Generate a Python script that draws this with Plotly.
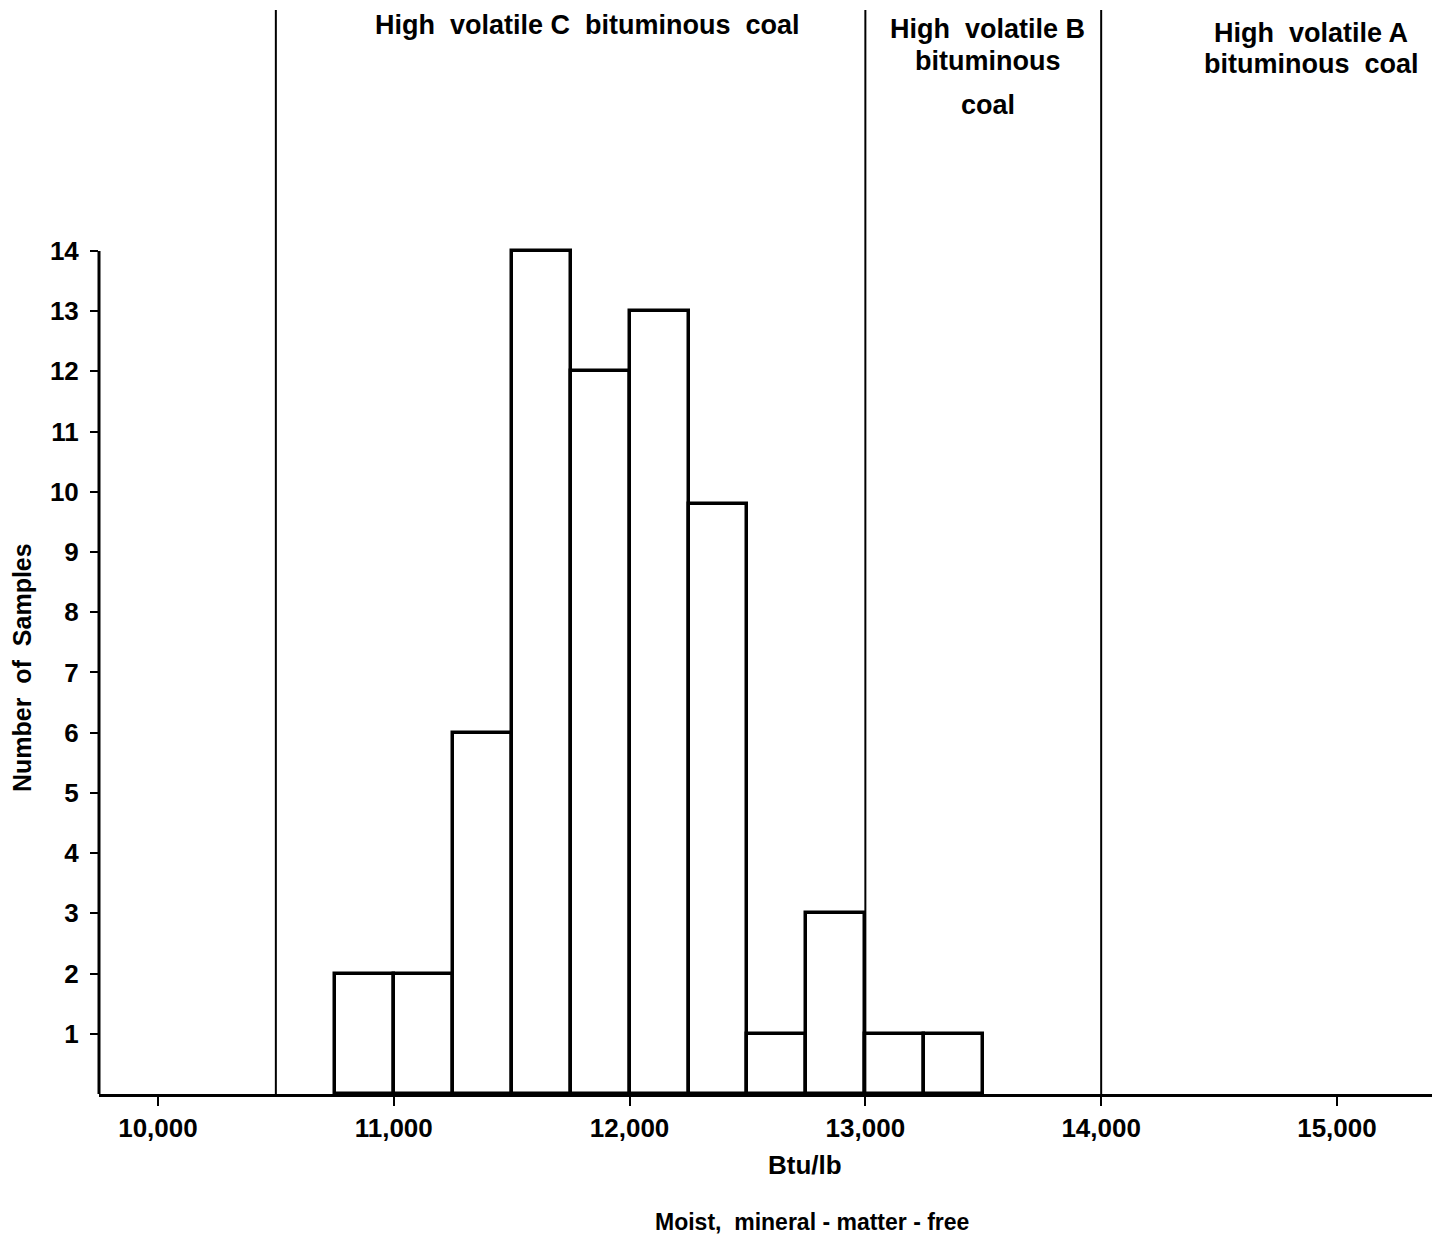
import plotly.graph_objects as go

# ---- data ----
bin_left = [10750, 11000, 11250, 11500, 11750, 12000, 12250, 12500, 12750, 13000, 13250]
counts = [2, 2, 6, 14, 12, 13, 9.8, 1, 3, 1, 1]
bin_width = 250
boundaries = [10500, 13000, 14000]
x_ticks = [10000, 11000, 12000, 13000, 14000, 15000]
x_ticklabels = ["10,000", "11,000", "12,000", "13,000", "14,000", "15,000"]
y_ticks = list(range(1, 15))
region_labels = [
    (11820, ["High  volatile C  bituminous  coal"], [25]),
    (13520, ["High  volatile B", "bituminous", "coal"], [29, 61, 105]),
    (14890, ["High  volatile A", "bituminous  coal"], [33, 64]),
]

FONT = "Liberation Sans"
W = "bold"

fig = go.Figure()
fig.add_trace(go.Bar(
    x=[b + bin_width / 2 for b in bin_left],
    y=counts,
    width=bin_width,
    marker=dict(color="white", line=dict(color="black", width=3.5)),
    showlegend=False,
))

shapes = []
for bx in boundaries:
    shapes.append(dict(type="line", xref="x", yref="paper", x0=bx, x1=bx, y0=0, y1=1,
                       line=dict(color="black", width=2)))
# y axis line only up to 14
shapes.append(dict(type="line", xref="paper", yref="y", x0=0, x1=0, y0=0, y1=max(y_ticks),
                   line=dict(color="black", width=3)))

annotations = []
for xc, lines, ys in region_labels:
    for txt, py in zip(lines, ys):
        annotations.append(dict(x=xc, xref="x", y=1, yref="paper", yanchor="middle",
                                yshift=-(py - 10), text=txt, showarrow=False,
                                font=dict(family=FONT, size=27, color="black", weight=W)))
annotations.append(dict(x=0.5296, xref="paper", y=0, yref="paper", yanchor="middle",
                        yshift=-71, text="Btu/lb", showarrow=False,
                        font=dict(family=FONT, size=26, color="black", weight=W)))
annotations.append(dict(x=0.535, xref="paper", y=0, yref="paper", yanchor="middle",
                        yshift=-128, text="Moist,  mineral - matter - free", showarrow=False,
                        font=dict(family=FONT, size=23, color="black", weight=W)))
annotations.append(dict(x=0, xref="paper", xshift=-77, xanchor="center",
                        y=0.393, yref="paper", yanchor="middle",
                        text="Number  of  Samples", textangle=-90, showarrow=False,
                        font=dict(family=FONT, size=25, color="black", weight=W)))

fig.update_layout(
    width=1442, height=1237,
    margin=dict(l=99, r=10, t=10, b=143),
    paper_bgcolor="white", plot_bgcolor="white",
    bargap=0,
    shapes=shapes, annotations=annotations,
    font=dict(family=FONT, color="black"),
    xaxis=dict(range=[9750, 15403], tickvals=x_ticks, ticktext=x_ticklabels,
               showline=True, linecolor="black", linewidth=3,
               ticks="outside", ticklen=9, tickwidth=2, tickcolor="black",
               showgrid=False, zeroline=False,
               tickfont=dict(family=FONT, size=26, color="black", weight=W)),
    yaxis=dict(range=[0, 18], tickvals=y_ticks, showline=False,
               ticks="outside", ticklen=8, tickwidth=2, tickcolor="black",
               ticklabelstandoff=6,
               showgrid=False, zeroline=False,
               tickfont=dict(family=FONT, size=26, color="black", weight=W)),
)

fig.write_html("out.html", config={"displayModeBar": False},
               post_script="document.body.style.margin='0px';")
